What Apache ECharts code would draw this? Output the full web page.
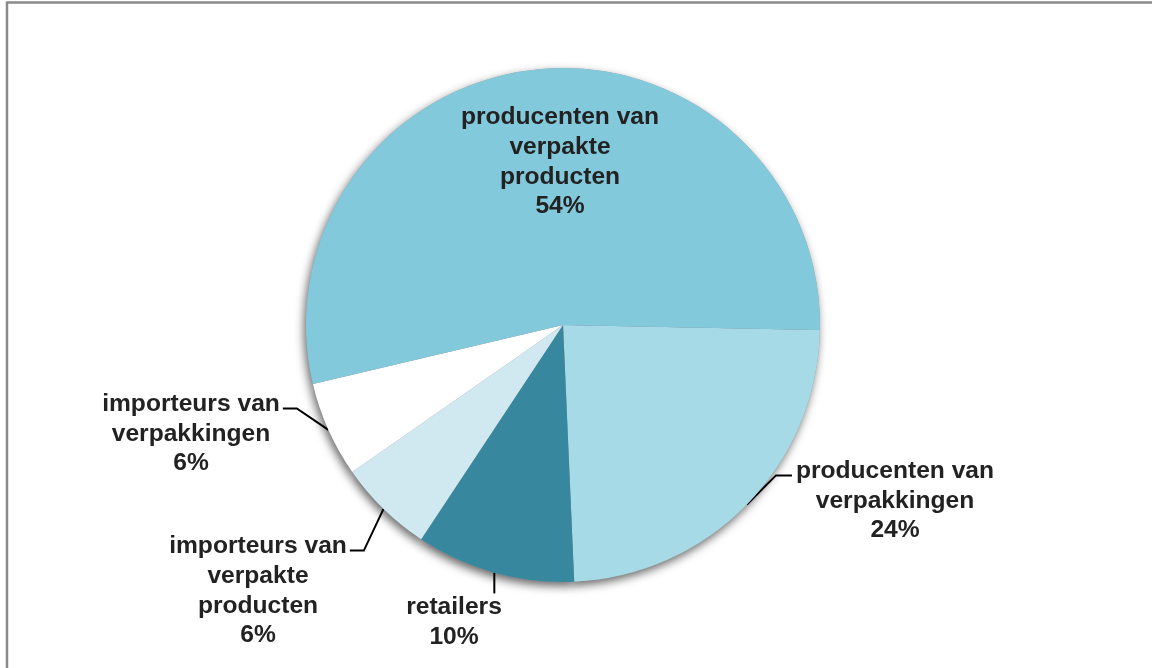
<!DOCTYPE html>
<html>
<head>
<meta charset="utf-8">
<script src="https://cdn.jsdelivr.net/npm/echarts@6/dist/echarts.min.js"></script>
<style>
  html, body { margin: 0; padding: 0; background: #fff; }
  #chart { width: 1152px; height: 668px; }
</style>
</head>
<body>
<div id="chart"></div>
<script>
// Data (clockwise order starting just below 3 o'clock)
const categories = [
  'producenten van\nverpakkingen',
  'retailers',
  'importeurs van\nverpakte\nproducten',
  'importeurs van\nverpakkingen',
  'producenten van\nverpakte\nproducten'
];
const shares = [24, 10, 6, 6, 54];
const sliceColors = ['#a6dae6', '#37879e', '#d0e9f0', '#ffffff', '#82c9dc'];

// label layout (styling/layout only)
const labelCenters = [
  [895, 501],
  [454, 622],
  [258, 591],
  [191, 434],
  [560, 162]
];
const labelAnchors = ['left', 'top', 'right', 'right', 'none'];
const LH = 29.6;

const chart = echarts.init(document.getElementById('chart'), null, { renderer: 'canvas' });

const mainData = categories.map((name, i) => ({
  name: name,
  value: shares[i],
  itemStyle: { color: sliceColors[i] },
  label: i === 4 ? { position: 'inside' } : { position: 'outside' },
  labelLine: { show: i !== 4 }
}));
const shadowData = categories.map((name, i) => ({ name: name, value: shares[i] }));

chart.setOption({
  animation: false,
  backgroundColor: '#ffffff',
  graphic: [{
    type: 'rect',
    z: -10,
    shape: { x: 7, y: 2.5, width: 1200, height: 700 },
    style: { fill: 'none', stroke: '#8a8a8a', lineWidth: 2.5 }
  }],
  series: [{
    // soft drop shadow underneath the pie
    type: 'pie',
    z: 1,
    silent: true,
    center: [563, 325],
    radius: 257,
    startAngle: -1.1,
    data: shadowData,
    label: { show: false },
    labelLine: { show: false },
    itemStyle: {
      color: '#9a9a9a',
      borderWidth: 0,
      shadowBlur: 10,
      shadowColor: 'rgba(0,0,0,0.6)',
      shadowOffsetX: -2,
      shadowOffsetY: 4
    },
    emphasis: { disabled: true }
  }, {
    type: 'pie',
    z: 2,
    center: [563, 325],
    radius: 257,
    startAngle: -1.1,
    clockwise: true,
    data: mainData,
    itemStyle: { borderWidth: 0 },
    emphasis: { disabled: true },
    label: {
      show: true,
      formatter: '{b}\n{d}%',
      fontFamily: 'Liberation Sans, Arial, sans-serif',
      fontWeight: 'bold',
      fontSize: 24.6,
      lineHeight: LH,
      color: '#222222',
      align: 'center'
    },
    labelLine: {
      length: 15,
      length2: 15,
      lineStyle: { color: '#000000', width: 2 }
    },
    labelLayout: function (p) {
      const i = p.dataIndex;
      const c = labelCenters[i];
      const w = p.labelRect.width, h = p.labelRect.height;
      const out = { x: c[0], y: c[1], align: 'center', verticalAlign: 'middle' };
      const kind = labelAnchors[i];
      if (kind !== 'none' && p.labelLinePoints) {
        const s = p.labelLinePoints[0];
        const ly = c[1] - h / 2 + LH / 2 + 4;
        let pts;
        if (kind === 'left') {
          const ex = c[0] - w / 2 - 4;
          pts = [s, [ex - 16, ly], [ex, ly]];
        } else if (kind === 'right') {
          const ex = c[0] + w / 2 + 3;
          pts = [s, [ex + 14, ly], [ex, ly]];
        } else {
          pts = [s, [s[0], c[1] - h / 2 + 1]];
        }
        out.labelLinePoints = pts;
      }
      return out;
    }
  }]
});
</script>
</body>
</html>
